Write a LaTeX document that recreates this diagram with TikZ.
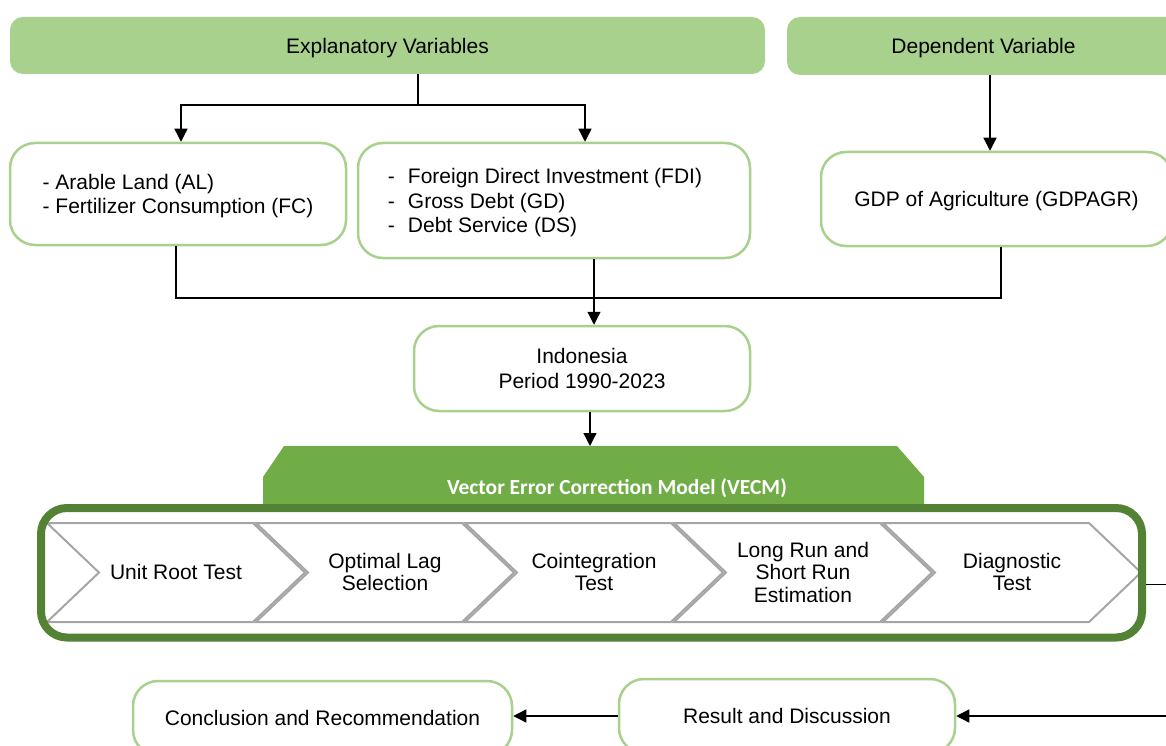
\documentclass[tikz,border=0pt]{standalone}
\usepackage{fontspec}
\setmainfont{Liberation Sans}
\newfontfamily\vecmfont{Carlito}
\usetikzlibrary{arrows.meta,calc}
\definecolor{lightgreen}{HTML}{A9D18E}
\definecolor{midgreen}{HTML}{70AD47}
\definecolor{darkgreen}{HTML}{548235}
\definecolor{chevgray}{HTML}{A5A5A5}

\begin{document}
\begin{tikzpicture}[x=1pt,y=-1pt,
  every node/.style={font=\fontsize{21}{24.5}\selectfont, inner sep=0pt},
  header/.style={fill=lightgreen, rounded corners=13pt, text depth=-1.5pt},
  box/.style={draw=lightgreen, line width=2.5pt, fill=white, rounded corners=25pt, text depth=-1.5pt},
  conn/.style={line width=1.3pt, black},
  arr/.style={conn, -{Triangle[width=13pt,length=13pt]}},
  chev/.style={draw=chevgray, line width=2pt, fill=white, line join=miter},
  chevtext/.style={align=center, font=\fontsize{21}{22.5}\selectfont},
]
\useasboundingbox (0,0) rectangle (1166,746);

% headers
\node[header, minimum width=755pt, minimum height=57pt] (expl) at (387.5,45.5) {Explanatory Variables};
\node[header, minimum width=393pt, minimum height=58pt] (dep) at (983.5,46) {Dependent Variable};

% variable boxes
\node[box, minimum width=336pt, minimum height=102pt, align=left] (al) at (178,194)
  {- Arable Land (AL)\\- Fertilizer Consumption (FC)};
\node[box, minimum width=392pt, minimum height=115pt, align=left] (fdi) at (554,200.5)
  {\makebox[20pt][l]{-}Foreign Direct Investment (FDI)\hspace*{18pt}\\
   \makebox[20pt][l]{-}Gross Debt (GD)\\
   \makebox[20pt][l]{-}Debt Service (DS)};
\node[box, minimum width=351pt, minimum height=94pt] (gdp) at (996.5,199) {GDP of Agriculture (GDPAGR)};

% scope of the study
\node[box, minimum width=336pt, minimum height=85pt, align=center] (indo) at (582,368.5)
  {Indonesia\\Period 1990-2023};

% VECM banner
\fill[midgreen] (263,506) -- (263,477) -- (284,446) -- (897,446) -- (924,477) -- (924,506) -- cycle;
\node[font=\vecmfont\fontsize{21.5}{24}\selectfont\bfseries, text=white] (vecm) at (617,488)
  {Vector Error Correction Model (VECM)};
\coordinate (bt) at (590,446);

% chevron steps
\foreach \i in {0,...,4} {
  \pgfmathsetmacro\L{47+209*\i}
  \draw[chev] (\L,523) -- (\L+206,523) -- (\L+258,572.5) -- (\L+206,622) -- (\L,622) -- (\L+52,572.5) -- cycle;
}
\node[chevtext] (c1) at (176,572) {Unit Root Test};
\node[chevtext] (c2) at (385,572) {Optimal Lag\\Selection};
\node[chevtext] (c3) at (594,572) {Cointegration\\Test};
\node[chevtext] (c4) at (803,572) {Long Run and\\Short Run\\Estimation};
\node[chevtext] (c5) at (1012,572) {Diagnostic\\Test};

% frame around the steps
\node[draw=darkgreen, line width=8pt, rounded corners=26pt, minimum width=1101pt, minimum height=129.5pt] (vecmbox) at (591.5,572.75) {};

% outcome boxes
\node[box, minimum width=336pt, minimum height=74pt] (res) at (787,716) {Result and Discussion};
\node[box, minimum width=379pt, minimum height=74pt] (conc) at (322.5,718) {Conclusion and Recommendation};

% connectors
\coordinate (ej) at (418,105);
\coordinate (xa) at (181,0);
\coordinate (xf) at (585,0);
\draw[conn] (expl.south -| ej) -- (ej);
\draw[arr] (ej) -| (al.north -| xa);
\draw[arr] (ej) -| (fdi.north -| xf);

\coordinate (xd) at (990,0);
\draw[arr] (dep.south -| xd) -- (gdp.north -| xd);

\coordinate (mj) at (594,298);
\coordinate (xal) at (176,0);
\coordinate (xg) at (1001,0);
\draw[conn] (al.south -| xal) |- (mj);
\draw[conn] (gdp.south -| xg) |- (mj);
\draw[arr] (fdi.south -| mj) -- (indo.north -| mj);

\draw[arr] (indo.south -| bt) -- (bt);

\coordinate (rc) at (1185,0);
\draw[arr] ([yshift=-12pt]vecmbox.east) -- ([yshift=-12pt]vecmbox.east -| rc) |- (res.east);
\draw[arr] (res.west) -- (conc.east |- res.west);
\end{tikzpicture}
\end{document}
